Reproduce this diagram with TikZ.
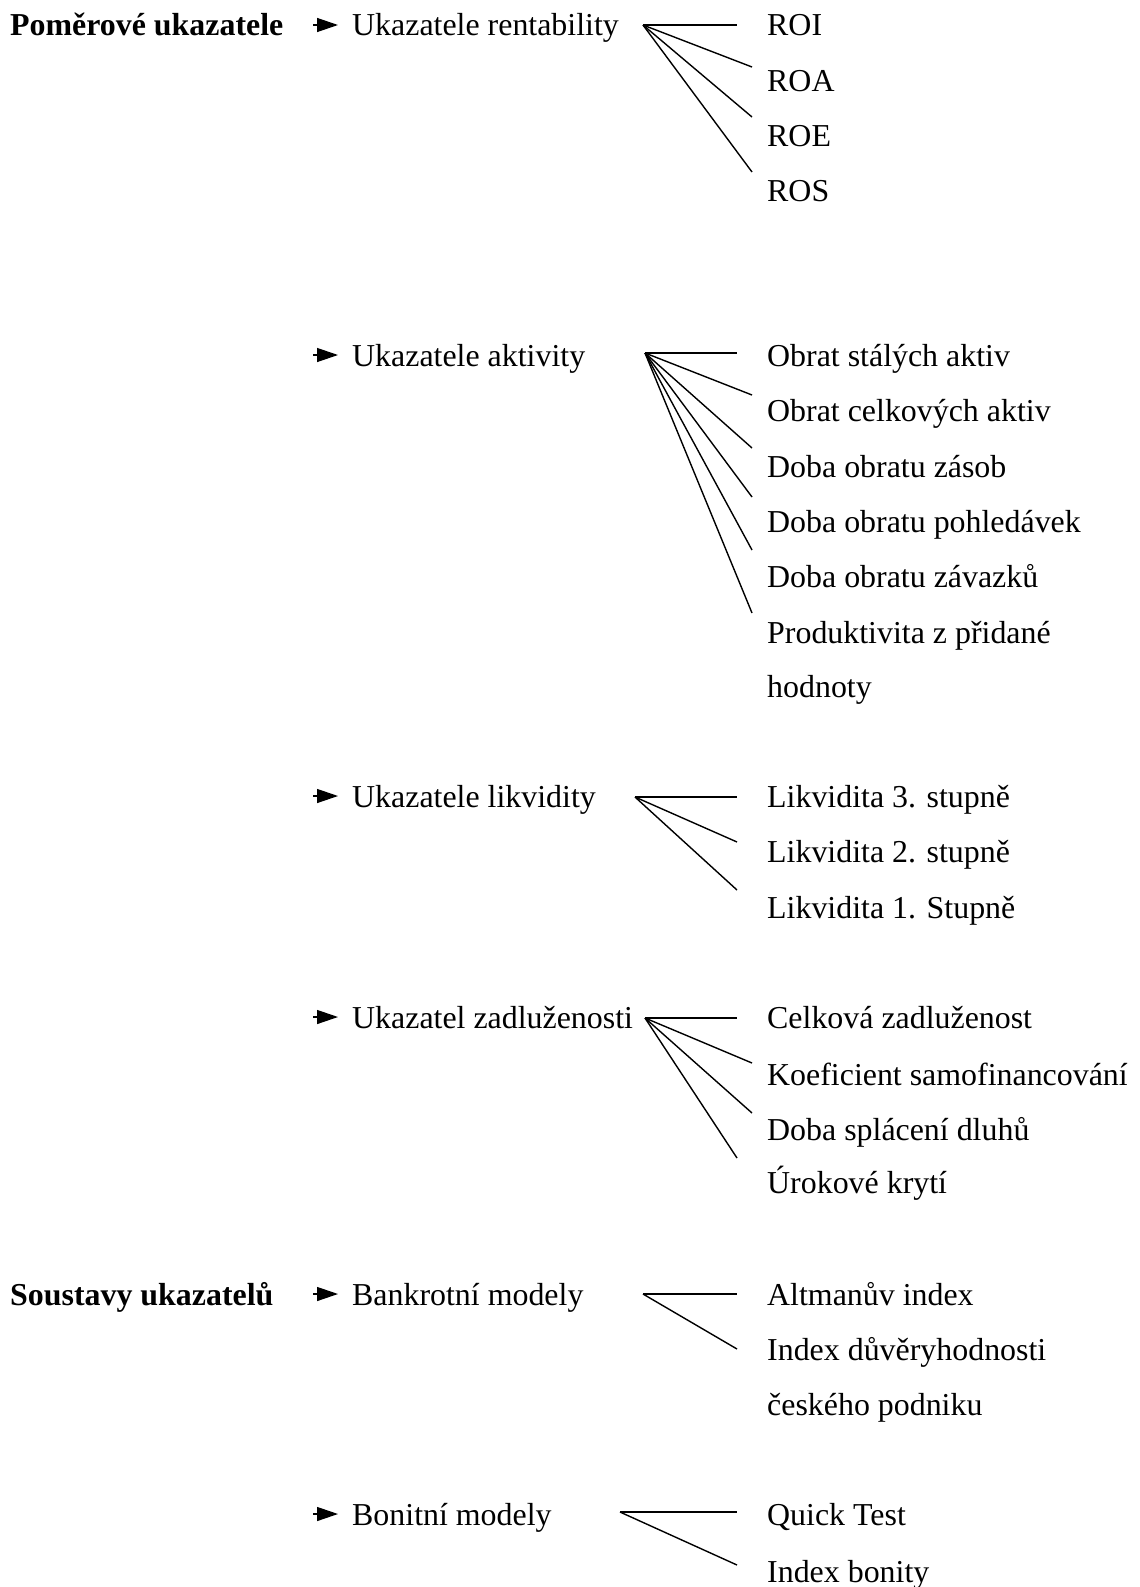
\documentclass[tikz,border=0pt]{standalone}
\usepackage{fontspec}
\setmainfont{Liberation Serif}
\usetikzlibrary{arrows.meta}
\begin{document}
\begin{tikzpicture}[x=1pt,y=-1pt,
  txt/.style={anchor=base west,inner sep=0pt,font=\fontsize{31.9}{38}\selectfont},
  headtxt/.style={anchor=base west,inner sep=0pt,font=\fontsize{31.9}{38}\selectfont\bfseries},
  fan/.style={line width=1.4pt},
  arr/.style={line width=1.3pt,-{Triangle[length=21pt,width=14pt]},shorten >=14pt}]
\useasboundingbox (0,0) rectangle (1140,1587);

% first column
\node[headtxt] (h1) at (10,36) {Poměrové ukazatele};
\node[headtxt] (h2) at (10,1305) {Soustavy ukazatelů};

% second column
\node[txt] (g1) at (352,36) {Ukazatele rentability};
\node[txt] (g2) at (352,366) {Ukazatele aktivity};
\node[txt] (g3) at (352,807) {Ukazatele likvidity};
\node[txt] (g4) at (352,1028) {Ukazatel zadluženosti};
\node[txt] (g5) at (352,1305) {Bankrotní modely};
\node[txt] (g6) at (352,1525) {Bonitní modely};

% arrows
\coordinate (a1) at (313,25);
\coordinate (a2) at (313,355);
\coordinate (a3) at (313,796);
\coordinate (a4) at (313,1017);
\coordinate (a5) at (313,1294);
\coordinate (a6) at (313,1514);
\foreach \i in {1,...,6} \draw[arr] (a\i) -- (a\i -| g\i.west);

% third column
\node[txt] (r1) at (767,36) {ROI};
\node[txt] (r2) at (767,91) {ROA};
\node[txt] (r3) at (767,146) {ROE};
\node[txt] (r4) at (767,201) {ROS};

\node[txt] (k1) at (767,366) {Obrat stálých aktiv};
\node[txt] (k2) at (767,421) {Obrat celkových aktiv};
\node[txt] (k3) at (767,477) {Doba obratu zásob};
\node[txt] (k4) at (767,532) {Doba obratu pohledávek};
\node[txt] (k5) at (767,587) {Doba obratu závazků};
\node[txt] (k6) at (767,643) {Produktivita z přidané};
\node[txt] (k7) at (767,697) {hodnoty};

\node[txt] (l1) at (767,807) {Likvidita 3. stupně};
\node[txt] (l2) at (767,862) {Likvidita 2. stupně};
\node[txt] (l3) at (767,918) {Likvidita 1. Stupně};

\node[txt] (z1) at (767,1028) {Celková zadluženost};
\node[txt] (z2) at (767,1085) {Koeficient samofinancování};
\node[txt] (z3) at (767,1140) {Doba splácení dluhů};
\node[txt] (z4) at (767,1193) {Úrokové krytí};

\node[txt] (b1) at (767,1305) {Altmanův index};
\node[txt] (b2) at (767,1360) {Index důvěryhodnosti};
\node[txt] (b3) at (767,1415) {českého podniku};

\node[txt] (q1) at (767,1525) {Quick Test};
\node[txt] (q2) at (767,1582) {Index bonity};

% fans
\coordinate (fr) at (643,25);
\coordinate (fr1) at (737,25);
\coordinate (fr2) at (752,67);
\coordinate (fr3) at (752,117);
\coordinate (fr4) at (752,172);
\foreach \i in {1,...,4} \draw[fan] (fr) -- (fr\i);

\coordinate (fk) at (645,353);
\coordinate (fk1) at (737,353);
\coordinate (fk2) at (752,395);
\coordinate (fk3) at (752,448);
\coordinate (fk4) at (752,497);
\coordinate (fk5) at (752,550);
\coordinate (fk6) at (752,613);
\foreach \i in {1,...,6} \draw[fan] (fk) -- (fk\i);

\coordinate (fl) at (635,797);
\coordinate (fl1) at (737,797);
\coordinate (fl2) at (737,842);
\coordinate (fl3) at (737,890);
\foreach \i in {1,...,3} \draw[fan] (fl) -- (fl\i);

\coordinate (fz) at (645,1018);
\coordinate (fz1) at (737,1018);
\coordinate (fz2) at (752,1063);
\coordinate (fz3) at (752,1113);
\coordinate (fz4) at (737,1158);
\foreach \i in {1,...,4} \draw[fan] (fz) -- (fz\i);

\coordinate (fb) at (643,1294);
\coordinate (fb1) at (737,1294);
\coordinate (fb2) at (737,1349);
\foreach \i in {1,2} \draw[fan] (fb) -- (fb\i);

\coordinate (fq) at (620,1512);
\coordinate (fq1) at (737,1512);
\coordinate (fq2) at (737,1565);
\foreach \i in {1,2} \draw[fan] (fq) -- (fq\i);
\end{tikzpicture}
\end{document}
